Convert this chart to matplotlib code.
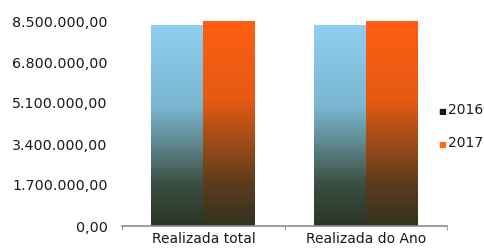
import numpy as np
import matplotlib.pyplot as plt
from matplotlib.colors import LinearSegmentedColormap
from matplotlib.ticker import FuncFormatter

categorias = ['Realizada total', 'Realizada do Ano']
anos = ['2016', '2017']
valores_2016 = [8320000, 8320000]
valores_2017 = [8480000, 8480000]
y_ticks = [0, 1700000, 3400000, 5100000, 6800000, 8500000]

# gradientes de baixo (0) para cima (1)
cmap_2016 = LinearSegmentedColormap.from_list('g2016', [
    (0.0, '#2b3526'), (0.2, '#3a4d40'), (0.42, '#5f8a92'),
    (0.6, '#7ab7d2'), (1.0, '#8fcff0')])
cmap_2017 = LinearSegmentedColormap.from_list('g2017', [
    (0.0, '#34321f'), (0.2, '#5a3c1c'), (0.42, '#a24c18'),
    (0.62, '#e65a12'), (1.0, '#ff5e12')])


def formatar_br(v, pos=None):
    s = f'{v:,.2f}'
    return s.replace(',', 'X').replace('.', ',').replace('X', '.')


fig = plt.figure(figsize=(4.85, 2.5), dpi=100)
ax = fig.add_axes([0.252, 0.096, 0.67, 0.82])

x = np.arange(len(categorias))
largura = 0.32
barras_a = ax.bar(x - largura / 2, valores_2016, largura, color='none', label=anos[0])
barras_b = ax.bar(x + largura / 2, valores_2017, largura, color='none', label=anos[1])

grad = np.linspace(0, 1, 256).reshape(-1, 1)
for barras, cmap in [(barras_a, cmap_2016), (barras_b, cmap_2017)]:
    for b in barras:
        x0, w, h = b.get_x(), b.get_width(), b.get_height()
        ax.imshow(grad, cmap=cmap, origin='lower', aspect='auto',
                  extent=(x0, x0 + w, 0, h), zorder=2, clip_on=False)

ax.set_xlim(-0.5, 1.5)
ax.set_ylim(0, 8500000)
ax.set_yticks(y_ticks)
ax.yaxis.set_major_formatter(FuncFormatter(formatar_br))
ax.set_xticks(x)
ax.set_xticklabels(categorias)
ax.set_xticks([-0.5, 0.5, 1.5], minor=True)

for lado in ['top', 'right', 'left']:
    ax.spines[lado].set_visible(False)
ax.spines['bottom'].set_color('#8c8c8c')
ax.spines['bottom'].set_linewidth(1.2)

ax.tick_params(axis='y', length=0, pad=10.5, labelsize=10.3, colors='#1a1a1a')
ax.tick_params(axis='x', which='major', length=0, pad=4, labelsize=10, colors='#1a1a1a')
ax.tick_params(axis='x', which='minor', length=3, color='#8c8c8c')

# legenda manual
fig.text(0.903, 0.555, '\u25a0', fontsize=6, color='#1a1a1a', va='center')
fig.text(0.923, 0.56, anos[0], fontsize=10, color='#1a1a1a', va='center')
fig.text(0.903, 0.423, '\u25a0', fontsize=6, color='#ff6a1a', va='center')
fig.text(0.923, 0.428, anos[1], fontsize=10, color='#1a1a1a', va='center')

fig.savefig('out.png', dpi=100)
